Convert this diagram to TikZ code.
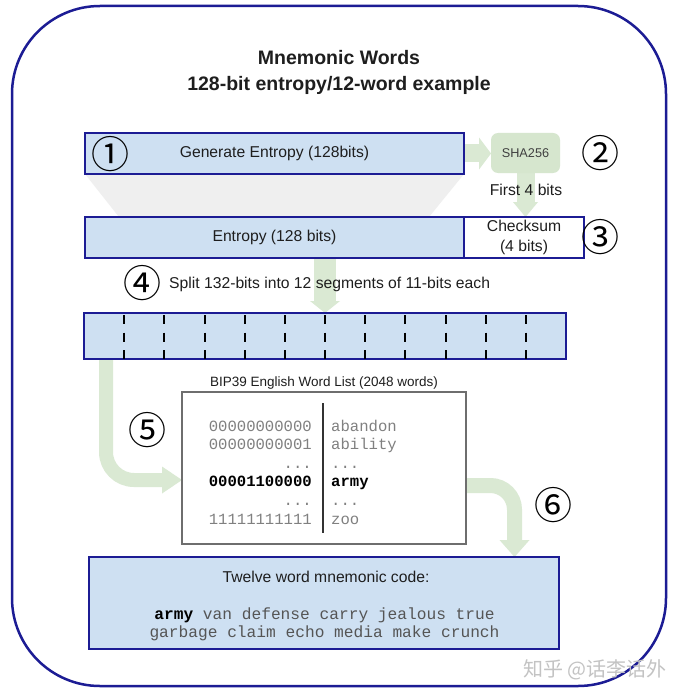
\documentclass[tikz,border=0pt]{standalone}
\usepackage{fontspec}
\setmainfont{Liberation Sans}
\setsansfont{Liberation Sans}
\setmonofont{Liberation Mono}
\newfontfamily\cjkfont{Noto Sans CJK SC}
\usetikzlibrary{arrows.meta}
\definecolor{navy}{RGB}{28,28,148}
\definecolor{bluefill}{RGB}{206,224,242}
\definecolor{grn}{RGB}{218,233,211}
\definecolor{shafill}{RGB}{214,230,206}
\definecolor{trap}{RGB}{239,239,239}
\definecolor{txt}{RGB}{30,30,30}
\definecolor{wlgray}{RGB}{128,128,128}
\definecolor{mngray}{RGB}{85,85,85}
\definecolor{wlborder}{RGB}{110,110,110}
\definecolor{wmgray}{RGB}{195,195,195}
\begin{document}
\begin{tikzpicture}[x=1pt,y=-1pt,
  bodyfont/.style={font=\fontsize{15.7}{20}\selectfont},
  box/.style={draw=navy, line width=2.4pt, fill=bluefill, outer sep=0pt, inner sep=0pt,
    anchor=north west, bodyfont, text=txt},
  circnum/.style={font=\cjkfont\fontsize{38}{38}\selectfont, inner sep=0pt, text=black},
  garrow/.style={draw=grn, line width=#1},
  wlL/.style={anchor=base east, inner sep=0pt, font=\ttfamily\fontsize{15.6}{18}\selectfont, text=wlgray},
  wlR/.style={anchor=base west, inner sep=0pt, font=\ttfamily\fontsize{15.6}{18}\selectfont, text=wlgray},
  mnline/.style={anchor=base, inner sep=0pt, font=\ttfamily\fontsize{16.2}{18}\selectfont, text=mngray},
  sepline/.style={draw=black, line width=2pt, dash pattern=on 9pt off 8.5pt}
]
\useasboundingbox (0,0) rectangle (678,695);
\fill[white] (0,0) rectangle (678,695);

% outer frame
\draw[navy, line width=2.5pt, rounded corners=88pt] (12,6) rectangle (666,686);

% title
\node[anchor=base, inner sep=0pt, font=\bfseries\fontsize{19.5}{24}\selectfont, text=txt] (t1) at (339,65) {Mnemonic Words};
\node[anchor=base, inner sep=0pt, font=\bfseries\fontsize{19.5}{24}\selectfont, text=txt] (t2) at (339,91) {128-bit entropy/12-word example};

% funnel
\fill[trap] (85,174) -- (464,174) -- (429,217) -- (119,217) -- cycle;

% node placeholders (so that the arrows can be drawn beneath the boxes)
\path (85,133) node[box, minimum width=379pt, minimum height=41pt, draw=none, fill=none] (gen) {};
\path (491,133) node[anchor=north west, minimum width=69pt, minimum height=40pt, inner sep=0pt, outer sep=0pt] (sha) {};
\path (85,217) node[box, minimum width=379pt, minimum height=41pt, draw=none, fill=none] (ent) {};
\path (464,217) node[box, minimum width=120pt, minimum height=41pt, draw=none, fill=none] (chk) {};
\path (84,313) node[box, minimum width=482pt, minimum height=46pt, draw=none, fill=none] (bar) {};
\path (182,392) node[anchor=north west, minimum width=284pt, minimum height=152pt, inner sep=0pt, outer sep=0pt] (wl) {};
\path (89,557) node[box, minimum width=470pt, minimum height=92pt, draw=none, fill=none] (fin) {};

% green arrows
\draw[garrow=18pt, -{Triangle[length=12pt,width=32pt,line width=0pt]}] (gen.east) -- (gen.east -| sha.west);
\draw[garrow=18pt, -{Triangle[length=15pt,width=25pt,line width=0pt]}] (sha.south) -- (sha.south |- chk.north);
\draw[garrow=22pt, -{Triangle[length=12pt,width=30pt,line width=0pt]}] (ent.south -| bar.north) -- (bar.north);
\coordinate (d0) at (106,359);
\coordinate (d1) at (182,480);
\draw[garrow=14pt, rounded corners=28pt, -{Triangle[length=20pt,width=27pt,line width=0pt]}] (d0) |- (d1);
\coordinate (e0) at (466,485.5);
\coordinate (e1) at (514.5,557);
\draw[garrow=15pt, rounded corners=24pt, -{Triangle[length=17pt,width=30pt,line width=0pt]}] (e0) -| (e1);

% boxes
\node[box, minimum width=379pt, minimum height=41pt] (gen) at (85,133) {Generate Entropy (128bits)};
\node[anchor=north west, minimum width=69pt, minimum height=40pt, inner sep=0pt, outer sep=0pt,
  fill=shafill, rounded corners=7pt, font=\fontsize{12.7}{14}\selectfont, text=txt!85] (sha) at (491,133) {SHA256};
\node[box, minimum width=379pt, minimum height=41pt] (ent) at (85,217) {Entropy (128 bits)};
\node[box, minimum width=120pt, minimum height=41pt, fill=white, align=center,
  font=\fontsize{15.7}{19.5}\selectfont] (chk) at (464,217) {Checksum\\(4 bits)};
\node[anchor=center, inner sep=0pt, bodyfont, text=txt, fill=none] (first) at (526,190) {First 4 bits};

\node[box, minimum width=482pt, minimum height=46pt] (bar) at (84,313) {};
\foreach \k in {1,...,11}
  \draw[sepline] ({84+\k*40.1667},315) -- ({84+\k*40.1667},359);

\node[anchor=west, inner sep=0pt, bodyfont, text=txt] (split) at (169,284) {Split 132-bits into 12 segments of 11-bits each};

% word list
\node[anchor=base, inner sep=0pt, font=\fontsize{13.5}{16}\selectfont, text=txt] (wlt) at (324,386) {BIP39 English Word List (2048 words)};
\node[anchor=north west, minimum width=284pt, minimum height=152pt, inner sep=0pt, outer sep=0pt,
  draw=wlborder, line width=1.2pt, fill=white] (wl) at (182,392) {};
\draw[black!80, line width=1.2pt] (323,403) -- (323,533);
\node[wlL] (l1) at (312,431) {00000000000};
\node[wlL] (l2) at (312,449.6) {00000000001};
\node[wlL] (l3) at (312,468.2) {...};
\node[wlL, text=black, font=\ttfamily\bfseries\fontsize{15.6}{18}\selectfont] (l4) at (312,486.8) {00001100000};
\node[wlL] (l5) at (312,505.4) {...};
\node[wlL] (l6) at (312,524) {11111111111};
\node[wlR] (r1) at (331,431) {abandon};
\node[wlR] (r2) at (331,449.6) {ability};
\node[wlR] (r3) at (331,468.2) {...};
\node[wlR, text=black, font=\ttfamily\bfseries\fontsize{15.6}{18}\selectfont] (r4) at (331,486.8) {army};
\node[wlR] (r5) at (331,505.4) {...};
\node[wlR] (r6) at (331,524) {zoo};

% final box
\node[box, minimum width=470pt, minimum height=92pt] (fin) at (89,557) {};
\node[anchor=base, inner sep=0pt, bodyfont, text=txt] (fint) at (326,582.5) {Twelve word mnemonic code:};
\node[mnline] (m1) at (324.5,619.5) {{\color{black}\bfseries army} van defense carry jealous true};
\node[mnline] (m2) at (324.5,637.5) {garbage claim echo media make crunch};

% circled numbers
\node[circnum] (c1) at (110,154) {①};
\node[circnum] (c2) at (600,153) {②};
\node[circnum] (c3) at (600,237) {③};
\node[circnum] (c4) at (142,283) {④};
\node[circnum] (c5) at (147,430) {⑤};
\node[circnum] (c6) at (553,505) {⑥};

% watermark
\node[anchor=east, inner sep=0pt, font=\cjkfont\fontsize{20}{20}\selectfont, text=wmgray] (wm) at (667,670) {知乎 @话李话外};
\end{tikzpicture}
\end{document}
